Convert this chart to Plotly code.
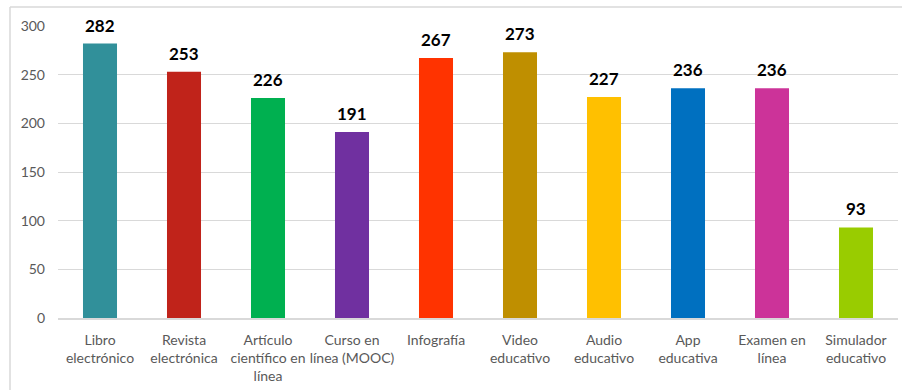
import plotly.graph_objects as go

categories = [
    "Libro<br>electrónico",
    "Revista<br>electrónica",
    "Artículo<br>científico en<br>línea",
    "Curso en<br>línea (MOOC)",
    "Infografía",
    "Video<br>educativo",
    "Audio<br>educativo",
    "App<br>educativa",
    "Examen en<br>línea",
    "Simulador<br>educativo",
]
values = [282, 253, 226, 191, 267, 273, 227, 236, 236, 93]
colors = [
    "#31909A", "#C0231A", "#00B050", "#7030A0", "#FF3300",
    "#BF8F00", "#FFC000", "#0070C0", "#CC3399", "#99CC00",
]
y_ticks = [0, 50, 100, 150, 200, 250, 300]

W, H = 902, 390
L, R, T, B = 58, 4, 26, 72

fig = go.Figure(
    go.Bar(
        x=categories,
        y=values,
        marker=dict(color=colors, line=dict(width=0)),
        hoverinfo="skip",
    )
)

# value labels above each bar
for c, v in zip(categories, values):
    fig.add_annotation(
        x=c, y=v, text=f"<b>{v}</b>", showarrow=False,
        yanchor="bottom", yshift=6,
        font=dict(family="Lato, Calibri, sans-serif", size=17, color="#000000"),
    )

# outer frame (top and left edges)
pw, ph = W - L - R, H - T - B
x_left = (10 - L) / pw
y_top = 1 + (T - 7) / ph
fig.add_shape(type="line", xref="paper", yref="paper",
              x0=x_left, x1=(W - L) / pw, y0=y_top, y1=y_top,
              line=dict(color="#D9D9D9", width=1.5))
fig.add_shape(type="line", xref="paper", yref="paper",
              x0=x_left, x1=x_left, y0=y_top, y1=-B / ph - 0.1,
              line=dict(color="#D9D9D9", width=1.5))

fig.update_layout(
    width=W, height=H,
    margin=dict(l=L, r=R, t=T, b=B),
    paper_bgcolor="white", plot_bgcolor="white",
    bargap=0.595,
    showlegend=False,
    font=dict(family="Lato, Calibri, sans-serif", size=14, color="#595959"),
    xaxis=dict(
        showgrid=False, showline=True, linecolor="#D9D9D9", linewidth=1.5,
        ticks="", tickfont=dict(size=14, color="#595959"),
        tickangle=0, fixedrange=True, ticklabelstandoff=8,
    ),
    yaxis=dict(
        range=[0, 300], tickvals=y_ticks, showgrid=True,
        gridcolor="#D9D9D9", gridwidth=1, zeroline=False,
        showline=False, ticks="", ticklabelstandoff=12,
        tickfont=dict(size=14, color="#595959"), fixedrange=True,
    ),
)

fig.write_html("out.html")
